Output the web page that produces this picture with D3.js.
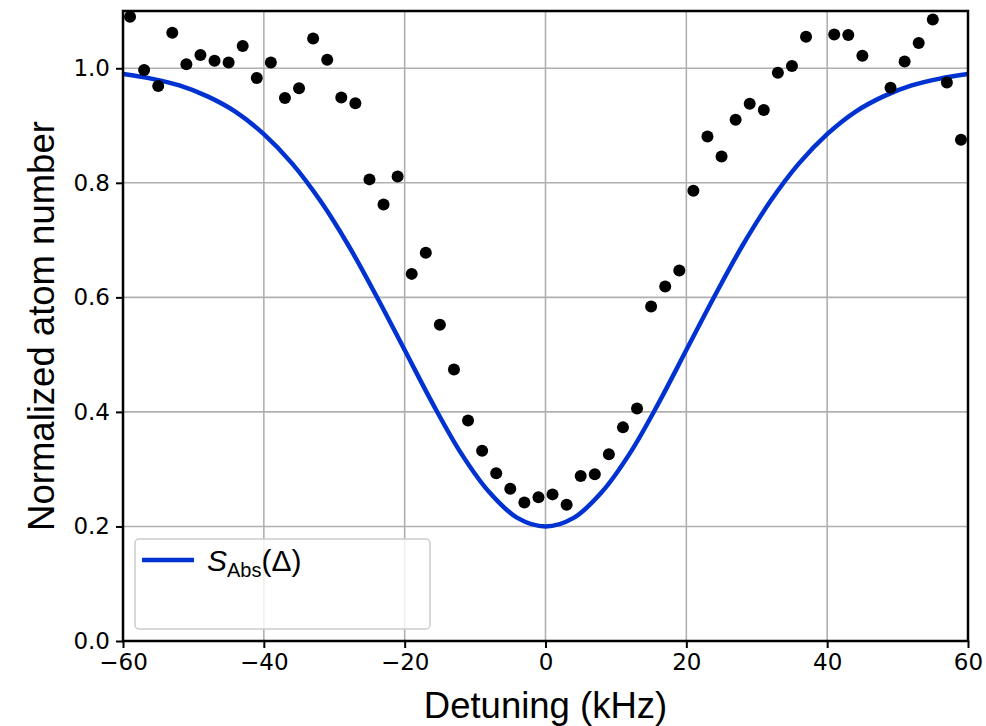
<!DOCTYPE html>
<html>
<head>
<meta charset="utf-8">
<script src="https://cdn.jsdelivr.net/npm/d3@7"></script>
<style>
  body { margin: 0; background: #fff; }
  .tickText { font-family: "DejaVu Sans", sans-serif; font-size: 23px; fill: #000; }
  .aText { font-family: "Liberation Sans", Arial, sans-serif; font-size: 36.5px; fill: #000; }
  .legText { font-family: "Liberation Sans", Arial, sans-serif; font-size: 30px; fill: #000; }
</style>
</head>
<body>
<div id="chart"></div>
<script>
// measured points (kHz, normalized atom number)
var detuning = [-59, -57, -55, -53, -51, -49, -47, -45, -43, -41, -39, -37, -35, -33, -31, -29, -27, -25, -23, -21,
  -19, -17, -15, -13, -11, -9, -7, -5, -3, -1, 1, 3, 5, 7, 9, 11, 13, 15, 17, 19,
  21, 23, 25, 27, 29, 31, 33, 35, 37, 41, 43, 45, 49, 51, 53, 55, 57, 59];
var atomNumber = [1.090, 0.997, 0.969, 1.062, 1.007, 1.023, 1.013, 1.010, 1.039, 0.983, 1.010, 0.948, 0.965, 1.052, 1.015, 0.949, 0.939, 0.806, 0.762, 0.811,
  0.641, 0.678, 0.552, 0.474, 0.385, 0.332, 0.293, 0.266, 0.242, 0.251, 0.256, 0.238, 0.288, 0.291, 0.326, 0.373, 0.406, 0.584, 0.619, 0.647,
  0.786, 0.881, 0.846, 0.910, 0.938, 0.927, 0.992, 1.004, 1.055, 1.059, 1.058, 1.022, 0.966, 1.012, 1.044, 1.085, 0.975, 0.875];

// S_Abs curve
var curveX = [-60, -56, -52, -48, -44, -40, -36, -32, -28, -24, -20, -16, -12, -8, -4, 0,
  4, 8, 12, 16, 20, 24, 28, 32, 36, 40, 44, 48, 52, 56, 60];
var curveY = [0.990, 0.982, 0.970, 0.951, 0.924, 0.885, 0.834, 0.769, 0.691, 0.602, 0.508, 0.414, 0.328, 0.260, 0.215, 0.200,
  0.215, 0.260, 0.328, 0.414, 0.508, 0.602, 0.691, 0.769, 0.834, 0.885, 0.924, 0.951, 0.970, 0.982, 0.990];

var xTicks = [-60, -40, -20, 0, 20, 40, 60];
var yTicks = [0.0, 0.2, 0.4, 0.6, 0.8, 1.0];

var svgWidth = 986;
var svgHeight = 726;
var margin = { top: 11, right: 18, bottom: 85, left: 123 };
var width = svgWidth - margin.left - margin.right;
var height = svgHeight - margin.top - margin.bottom;

var svg = d3.select("#chart")
  .append("svg")
  .attr("width", svgWidth)
  .attr("height", svgHeight);

var chartGroup = svg.append("g")
  .attr("transform", `translate(${margin.left}, ${margin.top})`);

var xScale = d3.scaleLinear().domain([-60, 60]).range([0, width]);
var yScale = d3.scaleLinear().domain([0, 1.1]).range([height, 0]);

svg.append("defs").append("clipPath")
  .attr("id", "plotClip")
  .append("rect")
  .attr("width", width)
  .attr("height", height);

// grid
chartGroup.append("g")
  .selectAll("line")
  .data(xTicks)
  .enter()
  .append("line")
  .attr("x1", d => xScale(d)).attr("x2", d => xScale(d))
  .attr("y1", 0).attr("y2", height)
  .attr("stroke", "#b0b0b0").attr("stroke-width", 1.6);

chartGroup.append("g")
  .selectAll("line")
  .data(yTicks)
  .enter()
  .append("line")
  .attr("x1", 0).attr("x2", width)
  .attr("y1", d => yScale(d)).attr("y2", d => yScale(d))
  .attr("stroke", "#b0b0b0").attr("stroke-width", 1.6);

// axes
var bottomAxis = d3.axisBottom(xScale).tickValues(xTicks).tickSize(7).tickPadding(6).tickFormat(d3.format("d"));
var leftAxis = d3.axisLeft(yScale).tickValues(yTicks).tickSize(7).tickPadding(6).tickFormat(d3.format(".1f"));

var xAxisG = chartGroup.append("g")
  .attr("transform", `translate(0, ${height})`)
  .call(bottomAxis);
var yAxisG = chartGroup.append("g")
  .call(leftAxis);

[xAxisG, yAxisG].forEach(function(g) {
  g.select(".domain").remove();
  g.selectAll(".tick line").attr("stroke", "#000").attr("stroke-width", 2);
  g.selectAll(".tick text").attr("class", "tickText");
});

// curve
var line = d3.line()
  .x(d => xScale(d[0]))
  .y(d => yScale(d[1]))
  .curve(d3.curveCatmullRom.alpha(0.5));

chartGroup.append("path")
  .datum(curveX.map((x, i) => [x, curveY[i]]))
  .attr("clip-path", "url(#plotClip)")
  .attr("d", line)
  .attr("fill", "none")
  .attr("stroke", "#0032d2")
  .attr("stroke-width", 4.5);

// data points
chartGroup.append("g")
  .attr("clip-path", "url(#plotClip)")
  .selectAll("circle")
  .data(detuning)
  .enter()
  .append("circle")
  .attr("cx", d => xScale(d))
  .attr("cy", (d, i) => yScale(atomNumber[i]))
  .attr("r", 6)
  .attr("fill", "#000");

// frame
chartGroup.append("rect")
  .attr("width", width)
  .attr("height", height)
  .attr("fill", "none")
  .attr("stroke", "#000")
  .attr("stroke-width", 2.5);

// legend
var legend = chartGroup.append("g")
  .attr("transform", "translate(12, 528)");
legend.append("rect")
  .attr("width", 295)
  .attr("height", 90)
  .attr("rx", 4)
  .attr("fill", "#fff")
  .attr("fill-opacity", 0.8)
  .attr("stroke", "#cccccc")
  .attr("stroke-width", 1.5);
legend.append("line")
  .attr("x1", 7).attr("x2", 59)
  .attr("y1", 21).attr("y2", 21)
  .attr("stroke", "#0032d2")
  .attr("stroke-width", 4.5);
var legText = legend.append("text")
  .attr("class", "legText")
  .attr("x", 72)
  .attr("y", 32);
legText.append("tspan").attr("font-style", "italic").text("S");
legText.append("tspan").attr("font-size", "20px").attr("dy", 6).text("Abs");
legText.append("tspan").attr("dy", -6).text("(Δ)");

// axis labels
chartGroup.append("text")
  .attr("class", "aText")
  .attr("text-anchor", "middle")
  .attr("transform", `translate(${width / 2}, ${height + 77})`)
  .text("Detuning (kHz)");

chartGroup.append("text")
  .attr("class", "aText")
  .attr("text-anchor", "middle")
  .attr("transform", `translate(${-123 + 54}, ${height / 2}) rotate(-90)`)
  .text("Normalized atom number");
</script>
</body>
</html>
